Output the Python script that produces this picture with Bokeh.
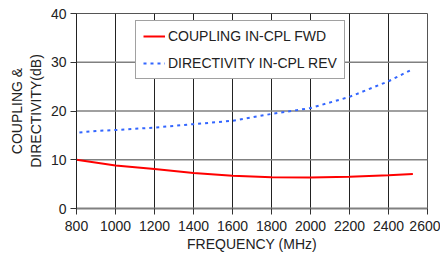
from bokeh.plotting import figure
from bokeh.models import ColumnDataSource, Legend, LegendItem, FixedTicker, Span
from bokeh.embed import file_html
from bokeh.resources import INLINE

# Data
cpl_freq = [800, 1000, 1200, 1400, 1600, 1800, 2000, 2200, 2400, 2525]
cpl_db = [10.0, 8.8, 8.1, 7.3, 6.7, 6.4, 6.35, 6.5, 6.8, 7.1]
dir_freq = [815, 900, 1000, 1200, 1400, 1600, 1800, 2000, 2200, 2400, 2525]
dir_db = [15.6, 15.9, 16.1, 16.6, 17.3, 18.0, 19.4, 20.6, 22.9, 26.1, 28.6]
x_ticks = [800, 1000, 1200, 1400, 1600, 1800, 2000, 2200, 2400, 2600]
y_ticks = [0, 10, 20, 30, 40]
series_names = ["COUPLING IN-CPL FWD", "DIRECTIVITY IN-CPL REV"]

FONT = "Liberation Sans"

p = figure(width=440, height=255, output_backend="svg", toolbar_location=None,
           x_range=(x_ticks[0], x_ticks[-1]), y_range=(y_ticks[0], y_ticks[-1]),
           frame_width=351, frame_height=195,
           min_border_left=76, min_border_right=13, min_border_top=13, min_border_bottom=47)

p.outline_line_color = "#555555"
p.outline_line_width = 1
p.grid.visible = False

# grid lines from the tick lists
xmin, xmax = x_ticks[0], x_ticks[-1]
ymin, ymax = y_ticks[0], y_ticks[-1]
for xt in x_ticks[1:-1]:
    p.add_layout(Span(location=xt, dimension="height", line_color="#222222",
                      line_width=1, level="underlay"))
p.multi_line(xs=[[xmin, xmax] for _ in y_ticks[1:-1]],
             ys=[[yt, yt] for yt in y_ticks[1:-1]],
             line_color="#808080", line_width=1.5)

p.xaxis.ticker = FixedTicker(ticks=x_ticks)
p.yaxis.ticker = FixedTicker(ticks=y_ticks)

for ax in (p.xaxis, p.yaxis):
    ax.major_label_text_font = FONT
    ax.major_label_text_font_size = "14px"
    ax.major_label_text_color = "#222222"
    ax.axis_label_text_font = FONT
    ax.axis_label_text_font_size = "14px"
    ax.axis_label_text_font_style = "normal"
    ax.axis_label_text_color = "#222222"
    ax.minor_tick_line_color = None
    ax.major_tick_in = 0
    ax.major_tick_out = 6
    ax.major_tick_line_color = "#333333"

p.xaxis.axis_line_color = "#808080"
p.xaxis.axis_line_width = 2
p.yaxis.axis_line_color = "#222222"
p.xaxis.axis_label = "FREQUENCY (MHz)"
p.yaxis.axis_label = "COUPLING &\nDIRECTIVITY(dB)"
p.xaxis.axis_label_standoff = 2
p.yaxis.axis_label_standoff = 4
p.yaxis.major_label_standoff = 4
p.xaxis.major_label_standoff = 6

src_c = ColumnDataSource(dict(x=cpl_freq, y=cpl_db))
src_d = ColumnDataSource(dict(x=dir_freq, y=dir_db))
r1 = p.line("x", "y", source=src_c, line_color="#ff0000", line_width=2)
r2 = p.line("x", "y", source=src_d, line_color="#3366ff", line_width=2, line_dash="3 4")

legend = Legend(items=[LegendItem(label=series_names[0], renderers=[r1]),
                       LegendItem(label=series_names[1], renderers=[r2])],
                location=(59, 129))
legend.label_text_font = FONT
legend.label_text_font_size = "14px"
legend.label_text_color = "#222222"
legend.border_line_color = "#444444"
legend.border_line_width = 1
legend.background_fill_alpha = 1
legend.glyph_width = 22
legend.glyph_height = 16
legend.label_height = 16
legend.spacing = 11
legend.padding = 7
legend.margin = 0
legend.label_standoff = 3
p.add_layout(legend, "center")

open("out.html", "w").write(file_html(p, INLINE))
